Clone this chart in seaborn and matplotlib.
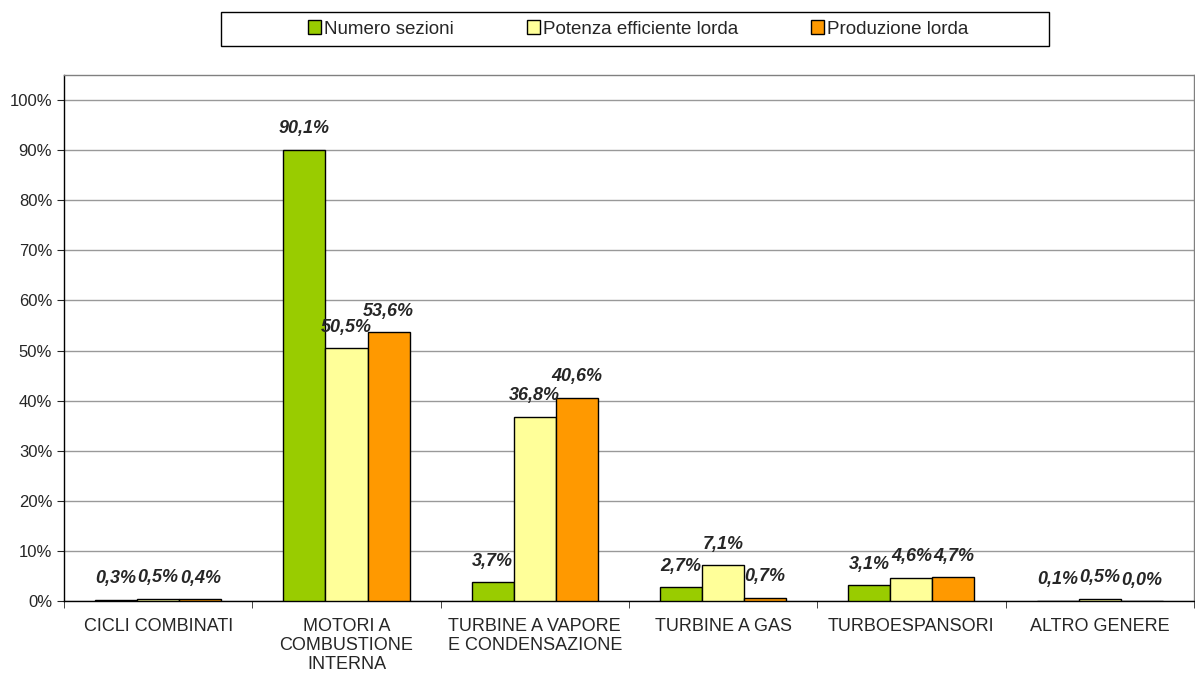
import matplotlib
matplotlib.use("Agg")
import matplotlib.pyplot as plt
import pandas as pd
import seaborn as sns
from matplotlib.patches import Patch, Rectangle
from matplotlib.ticker import FixedLocator, MultipleLocator, PercentFormatter

categories = [
    "CICLI COMBINATI",
    "MOTORI A\nCOMBUSTIONE\nINTERNA",
    "TURBINE A VAPORE\nE CONDENSAZIONE",
    "TURBINE A GAS",
    "TURBOESPANSORI",
    "ALTRO GENERE",
]
series_names = ["Numero sezioni", "Potenza efficiente lorda", "Produzione lorda"]
numero_sezioni = [0.3, 90.1, 3.7, 2.7, 3.1, 0.1]
potenza_lorda = [0.5, 50.5, 36.8, 7.1, 4.6, 0.5]
produzione_lorda = [0.4, 53.6, 40.6, 0.7, 4.7, 0.0]
colors = ["#99CC00", "#FFFF99", "#FF9900"]

rows = []
for name, vals in zip(series_names, [numero_sezioni, potenza_lorda, produzione_lorda]):
    for cat, v in zip(categories, vals):
        rows.append({"categoria": cat, "serie": name, "valore": v})
df = pd.DataFrame(rows)

sns.set_style("white")
plt.rcParams["font.family"] = ["Liberation Sans", "DejaVu Sans"]

fig = plt.figure(figsize=(11.95, 6.75), dpi=100)
ax = fig.add_axes([0.0536, 0.1096, 0.9454, 0.7793])

sns.barplot(
    data=df, x="categoria", y="valore", hue="serie",
    order=categories, hue_order=series_names,
    palette=colors, saturation=1, width=0.67, edgecolor="black", linewidth=1,
    errorbar=None, legend=False, ax=ax, zorder=3,
)

for container in ax.containers:
    labels = [f"{b.get_height():.1f}%".replace(".", ",") for b in container]
    ax.bar_label(container, labels=labels, padding=9, fontsize=13,
                 fontweight="bold", fontstyle="italic")

ax.set_ylim(0, 105)
ax.set_xlim(-0.5, len(categories) - 0.5)
ax.yaxis.set_major_locator(FixedLocator(range(0, 101, 10)))
ax.yaxis.set_major_formatter(PercentFormatter(decimals=0))
ax.grid(axis="y", color="#999999", linewidth=1, zorder=0)
ax.set_axisbelow(True)
ax.set_xlabel("")
ax.set_ylabel("")
ax.tick_params(axis="y", length=5, direction="out", labelsize=12, left=True)
ax.tick_params(axis="x", which="major", length=0, labelsize=13, pad=12)
for lbl in ax.get_xticklabels():
    lbl.set_linespacing(1.15)
ax.xaxis.set_minor_locator(MultipleLocator(1, offset=0.5))
ax.tick_params(axis="x", which="minor", length=5, direction="out", bottom=True)
for s in ax.spines.values():
    s.set_color("black")
    s.set_linewidth(1)
ax.spines["top"].set_color("#808080")
ax.spines["right"].set_color("#808080")

# legend box drawn separately, Excel-style wide padding
fig.patches.append(Rectangle((0.185, 0.9319), 0.693, 0.0504, transform=fig.transFigure,
                             facecolor="white", edgecolor="black", linewidth=1))
handles = [Patch(facecolor=c, edgecolor="black", label=n) for c, n in zip(colors, series_names)]
fig.legend(handles=handles, loc="center", bbox_to_anchor=(0.534, 0.957),
           ncol=3, frameon=False, fontsize=13.5,
           handlelength=0.7, handleheight=0.7, handletextpad=0.15,
           columnspacing=3.9, borderpad=0, borderaxespad=0)

fig.savefig("out.png", dpi=100)
